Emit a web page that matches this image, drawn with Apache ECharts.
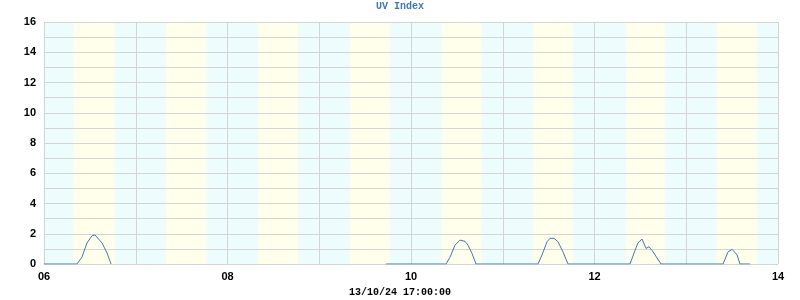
<!DOCTYPE html>
<html>
<head>
<meta charset="utf-8">
<script src="https://cdn.jsdelivr.net/npm/echarts@6/dist/echarts.min.js"></script>
<style>html,body{margin:0;padding:0;background:#fff}#c{width:800px;height:300px}</style>
</head>
<body>
<div id="c"></div>
<script>
// hours since 06 00:00
const hours = [0, 8.63, 9.94, 11.25, 12.56, 13.34, 13.86, 15.17, 16.48, 17.53,
  50,
  89.46, 105.16, 106.20, 107.51, 108.82, 109.34, 110.13, 110.91, 111.96, 113.00,
  129.22, 130.27, 131.58, 132.36, 133.41, 134.45, 135.76, 137.07,
  153.29, 154.60, 155.38, 156.43, 157.48, 158.26, 159.05, 160.36, 161.40,
  177.62, 178.93, 179.98, 180.50, 181.29, 182.07, 184.69];
const uv = [0, 0, 0.46, 1.39, 1.87, 1.92, 1.79, 1.39, 0.73, 0,
  null,
  0, 0, 0.45, 1.25, 1.58, 1.65, 1.5, 1.25, 0.7, 0,
  0, 0.6, 1.47, 1.7, 1.7, 1.47, 0.8, 0,
  0, 0.9, 1.4, 1.65, 1.03, 1.14, 0.9, 0.4, 0,
  0, 0.8, 0.97, 0.97, 0.6, 0, 0];
const sunrise = [7.66, 7.91, 7.98, 8.04, 8.03, 7.91, 8.24, 7.96];
const sunset = [18.57, 18.56, 18.44, 18.51, 18.49, 18.30, 18.44, 18.43];
const dayLabels = ['06', '08', '10', '12', '14'];
const yTicks = [0, 2, 4, 6, 8, 10, 12, 14, 16];

const NIGHT = '#edfcfd', DAY = '#ffffec';
const bands = sunrise.map((sr, d) => [
  {xAxis: d * 24 + sr - 0.4},
  {xAxis: d * 24 + sunset[d] + 0.4}
]);
const lineData = hours.map((h, i) => [h, uv[i] === null ? '-' : uv[i]]);

const chart = echarts.init(document.getElementById('c'), null, {renderer: 'canvas'});
chart.setOption({
  animation: false,
  title: [
    {text: 'UV Index', left: 'center', top: 1, padding: 0,
     textStyle: {fontFamily: 'Liberation Mono', fontWeight: 'bold', fontSize: 10, color: '#3a7ab9'}},
    {text: '13/10/24 17:00:00', left: 'center', top: 287, padding: 0,
     textStyle: {fontFamily: 'Liberation Mono', fontWeight: 'bold', fontSize: 10, color: '#000'}}
  ],
  grid: {left: 44, right: 22, top: 22, bottom: 36, show: true, backgroundColor: NIGHT, borderWidth: 0},
  xAxis: {
    type: 'value', min: 0, max: 192, interval: 48, z: 5,
    axisLine: {show: false}, axisTick: {show: false},
    axisLabel: {margin: 7, color: '#000', fontWeight: 'bold', fontSize: 11, fontFamily: 'Liberation Sans',
      formatter: v => dayLabels[Math.round(v / 48)]},
    splitLine: {show: true, lineStyle: {color: '#d4d4d4', width: 1}},
    minorTick: {show: false, splitNumber: 2},
    minorSplitLine: {show: true, lineStyle: {color: '#d4d4d4', width: 1}}
  },
  yAxis: {
    type: 'value', min: 0, max: 16, interval: 2, z: 5,
    axisLine: {show: false}, axisTick: {show: false},
    axisLabel: {margin: 8, color: '#000', fontWeight: 'bold', fontSize: 11, fontFamily: 'Liberation Sans',
      formatter: v => String(yTicks[Math.round(v / 2)])},
    splitLine: {show: true, lineStyle: {color: '#d4d4d4', width: 1}},
    minorTick: {show: false, splitNumber: 2},
    minorSplitLine: {show: true, lineStyle: {color: '#d4d4d4', width: 1}}
  },
  series: [
    {
      type: 'line', data: [], z: 1, silent: true,
      markArea: {
        silent: true,
        itemStyle: {
          opacity: 1,
          color: {type: 'linear', x: 0, y: 0, x2: 1, y2: 0,
            colorStops: [{offset: 0, color: NIGHT}, {offset: 0.07, color: DAY},
                         {offset: 0.93, color: DAY}, {offset: 1, color: NIGHT}]}
        },
        data: bands
      }
    },
    {
      type: 'line', data: lineData, z: 10, symbol: 'none', connectNulls: false,
      lineStyle: {color: '#3a7ab9', width: 1}
    }
  ]
});
</script>
</body>
</html>
